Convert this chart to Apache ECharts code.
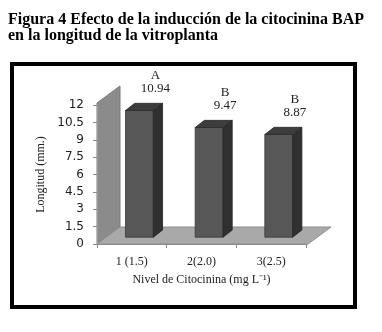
<!DOCTYPE html>
<html><head><meta charset="utf-8">
<script src="https://cdn.jsdelivr.net/npm/echarts@6/dist/echarts.min.js"></script>
<style>html,body{margin:0;padding:0;background:#fff}#c{width:382px;height:332px}</style>
</head><body><div id="c"></div>
<script>
// ---- data ----
const categories = ['1 (1.5)', '2(2.0)', '3(2.5)'];
const values = [10.94, 9.47, 8.87];
const groups = ['A', 'B', 'B'];
const yMin = 0, yMax = 12, yStep = 1.5;

const chart = echarts.init(document.getElementById('c'), null, {renderer: 'canvas'});
const DEPTH = [23, -17]; // floor depth vector (px)
const serif = 'Liberation Serif';

function renderDecor(params, api) {
  const cs = params.coordSys;
  const x = cs.x, y = cs.y, w = cs.width, h = cs.height;
  const yb = y + h, dx = DEPTH[0], dy = DEPTH[1];
  return {
    type: 'group',
    children: [
      { type: 'polygon', shape: { points: [[x, yb], [x, y - 2], [x + dx, y - 2 + dy], [x + dx, yb + dy]] },
        style: { fill: '#8b8b8b', stroke: '#7a7a7a', lineWidth: 1 } },
      { type: 'polygon', shape: { points: [[x, yb], [x + w + 2, yb], [x + w + 2 + dx, yb + dy], [x + dx, yb + dy]] },
        style: { fill: '#a9a9a9', stroke: '#8e8e8e', lineWidth: 1 } }
    ]
  };
}

function renderBar(params, api) {
  const i = api.value(0), v = api.value(1);
  const p0 = api.coord([i, 0]);
  const p1 = api.coord([i, v]);
  const band = api.size([1, 0])[0];
  const bw = band * 0.4;
  const sx = DEPTH[0] * 0.33, sy = DEPTH[1] * 0.4;
  const bdx = DEPTH[0] * 0.4, bdy = DEPTH[1] * 0.42;
  const xc = p0[0] + sx;
  const xl = xc - bw / 2, xr = xc + bw / 2;
  const yb = p0[1] + sy, yt = p1[1] + sy;
  const backTop = yt + bdy;
  return {
    type: 'group',
    children: [
      { type: 'rect', shape: { x: xl, y: yt, width: bw, height: yb - yt },
        style: { fill: '#575757', stroke: '#3a3a3a', lineWidth: 0.8 } },
      { type: 'polygon', shape: { points: [[xr, yt], [xr + bdx, yt + bdy], [xr + bdx, yb + bdy], [xr, yb]] },
        style: { fill: '#303030', stroke: '#262626', lineWidth: 0.8 } },
      { type: 'polygon', shape: { points: [[xl, yt], [xl + bdx, yt + bdy], [xr + bdx, yt + bdy], [xr, yt]] },
        style: { fill: '#3d3d3d', stroke: '#2a2a2a', lineWidth: 0.8 } },
      { type: 'text', style: { x: xc + 16, y: backTop - 15, text: String(v.toFixed(2)), fill: '#222',
        font: '13px "' + serif + '"', align: 'center', verticalAlign: 'middle' } },
      { type: 'text', style: { x: xc + 16, y: backTop - 28, text: groups[i], fill: '#222',
        font: '13px "' + serif + '"', align: 'center', verticalAlign: 'middle' } }
    ]
  };
}

const option = {
  animation: false,
  backgroundColor: '#fff',
  title: {
    text: 'Figura 4 Efecto de la inducción de la citocinina BAP\nen la longitud de la vitroplanta',
    left: 8, top: 12, padding: 0,
    textStyle: { fontFamily: serif, fontWeight: 'bold', fontSize: 16, lineHeight: 16, color: '#000' }
  },
  graphic: [
    { type: 'rect', shape: { x: 12, y: 64, width: 343, height: 243 },
      style: { fill: 'none', stroke: '#000', lineWidth: 4 }, z: 0 }
  ],
  grid: { left: 97, top: 105, width: 209, height: 139 },
  xAxis: {
    type: 'category', data: categories, z: 5,
    axisLine: { show: true, lineStyle: { color: '#8a8a8a', width: 1 } },
    axisTick: { show: true, length: 4, lineStyle: { color: '#8a8a8a' } },
    axisLabel: { fontFamily: serif, fontSize: 12, color: '#222', margin: 12 },
    name: 'Nivel de Citocinina (mg L⁻¹)', nameLocation: 'middle', nameGap: 30,
    nameTextStyle: { fontFamily: serif, fontSize: 12, color: '#222' }
  },
  yAxis: {
    type: 'value', min: yMin, max: yMax, interval: yStep, z: 5,
    axisLine: { show: true, lineStyle: { color: '#9a9a9a', width: 1 } },
    axisTick: { show: true, length: 4, lineStyle: { color: '#8a8a8a' } },
    splitLine: { show: false },
    axisLabel: { fontFamily: 'DejaVu Sans', fontSize: 12, color: '#222', margin: 13 },
    name: 'Longitud (mm.)', nameLocation: 'middle', nameGap: 45,
    nameTextStyle: { fontFamily: serif, fontSize: 12, color: '#222' }
  },
  series: [
    { type: 'custom', z: 1, silent: true, renderItem: renderDecor, data: [[0, 0]] },
    { type: 'custom', z: 2, renderItem: renderBar, data: values.map((v, i) => [i, v]) }
  ]
};
chart.setOption(option);
</script>
</body></html>
